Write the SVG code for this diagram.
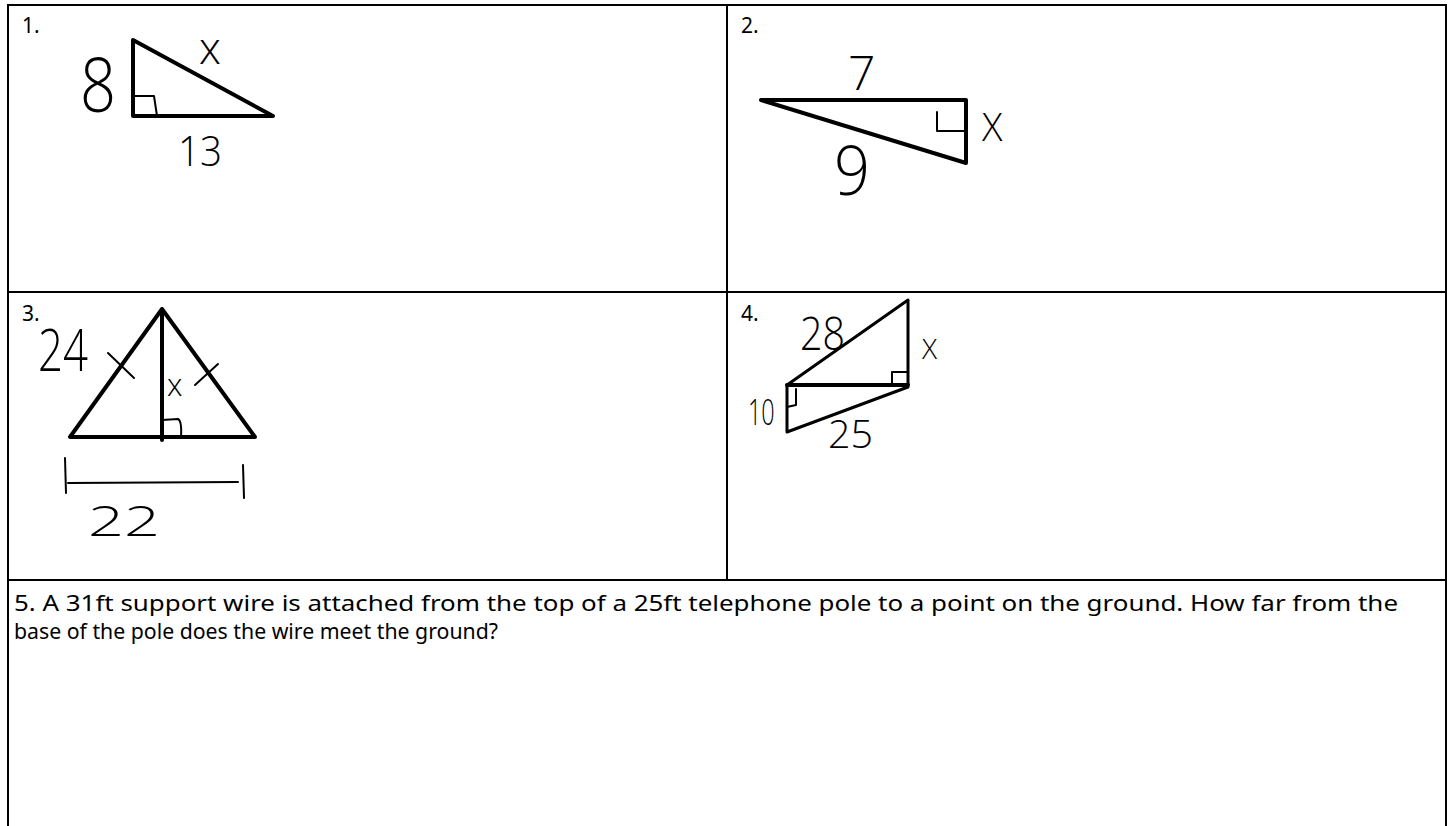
<svg xmlns="http://www.w3.org/2000/svg" width="1450" height="826" viewBox="0 0 1450 826">
<style>
.grid{stroke:#000;stroke-width:2;fill:none}
.tri{stroke:#000;stroke-width:4;fill:none;stroke-linejoin:round;stroke-linecap:round}
.thin{stroke:#000;stroke-width:2;fill:none;stroke-linecap:round;stroke-linejoin:round}
.num{font-family:"Noto Sans","Open Sans",sans-serif;font-size:21px;fill:#000}
.body{font-family:"Noto Sans","Open Sans",sans-serif;font-size:22px;fill:#000}
.hand{font-family:"Open Sans","Noto Sans",sans-serif;font-weight:300;fill:#000}
</style>
<rect width="1450" height="826" fill="#fff"/>
<g id="table">
<line class="grid" x1="8" y1="5" x2="1446" y2="5"/>
<line class="grid" x1="8" y1="4" x2="8" y2="826"/>
<line class="grid" x1="1446" y1="4" x2="1446" y2="826"/>
<line class="grid" x1="727" y1="5" x2="727" y2="580"/>
<line class="grid" x1="8" y1="292" x2="1446" y2="292"/>
<line class="grid" x1="8" y1="580" x2="1446" y2="580"/>
</g>
<g id="p1">
<text class="num" x="22" y="33">1.</text>
<path class="tri" d="M133 40 L133 116 L273 116 Z"/>
<path class="thin" d="M133 96 L154 96 L157 116"/>
<text class="hand" x="80" y="112" font-size="76" textLength="36" lengthAdjust="spacingAndGlyphs">8</text>
<text class="hand" x="199" y="64" font-size="44">x</text>
<text class="hand" x="178" y="166" font-size="42" textLength="44" lengthAdjust="spacingAndGlyphs">13</text>
</g>
<g id="p2">
<text class="num" x="741" y="33">2.</text>
<path class="tri" d="M761 100 L966 100 L966 163 Z"/>
<path class="thin" d="M937 112 L937 131 L966 131"/>
<text class="hand" x="848" y="90" font-size="48">7</text>
<text class="hand" x="982" y="141" font-size="38">X</text>
<text class="hand" x="834" y="195" font-size="68" textLength="36" lengthAdjust="spacingAndGlyphs">9</text>
</g>
<g id="p3">
<text class="num" x="22" y="321">3.</text>
<path class="tri" d="M162 309 L70 437 L255 437 Z M162 309 L162 440"/>
<path class="thin" d="M162 420 L178 419 Q182 421 181 437"/>
<path class="thin" d="M108 353 L134 378 M195 385 L218 364"/>
<text class="hand" x="38" y="371" font-size="58" textLength="50" lengthAdjust="spacingAndGlyphs">24</text>
<text class="hand" x="167" y="396" font-size="31">x</text>
<path class="thin" d="M65 458 L66 493 M68 483 L238 482 M243 465 L244 498"/>
<text class="hand" x="88" y="536" font-size="42" textLength="72" lengthAdjust="spacingAndGlyphs">22</text>
</g>
<g id="p4">
<text class="num" x="741" y="321">4.</text>
<path class="tri" d="M787 385 L908 385" />
<path class="thin" style="stroke-width:3" d="M787 385 L908 300 L908 385 M787 385 L787 432 L908 387"/>
<path class="thin" d="M892 385 L892 372 L908 372"/>
<path class="thin" d="M787 407 L796 405 L796 389"/>
<text class="hand" x="800" y="350" font-size="46" textLength="45" lengthAdjust="spacingAndGlyphs">28</text>
<text class="hand" x="922" y="359" font-size="28">X</text>
<text class="hand" style="opacity:0.99" transform="translate(748 425) scale(0.65 1)" x="0" y="0" font-size="36">10</text>
<text class="hand" x="828" y="448" font-size="39" textLength="45" lengthAdjust="spacingAndGlyphs">25</text>
</g>
<g id="p5">
<text class="body" x="14" y="611" textLength="1384" lengthAdjust="spacingAndGlyphs">5. A 31ft support wire is attached from the top of a 25ft telephone pole to a point on the ground.  How far from the</text>
<text class="body" x="14" y="639" textLength="484" lengthAdjust="spacingAndGlyphs">base of the pole does the wire meet the ground?</text>
</g>
</svg>
